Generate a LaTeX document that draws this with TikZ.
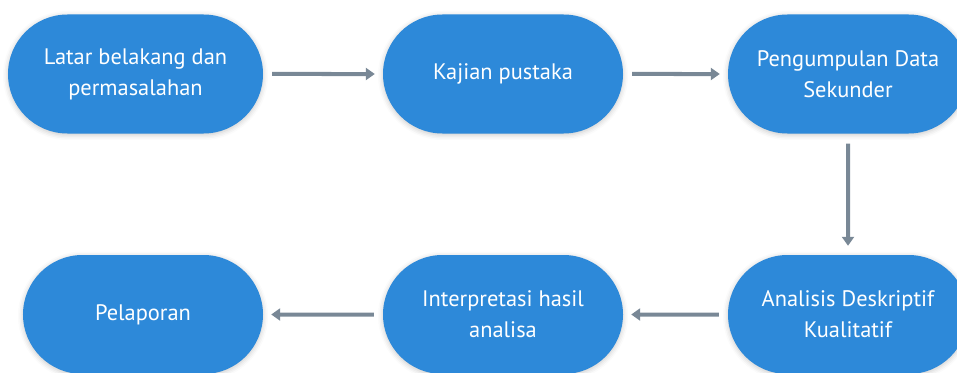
\documentclass[tikz,border=0pt]{standalone}
\usepackage{fontspec}
\setmainfont{PT Sans}
\usetikzlibrary{shapes.misc,arrows.meta,shadows.blur}
\definecolor{boxblue}{RGB}{45,137,217}
\definecolor{arrowgray}{RGB}{121,136,150}
\begin{document}
\begin{tikzpicture}[x=1bp,y=1bp,
step box/.style = {rounded rectangle, fill = boxblue, draw = none,
  minimum width = 240bp, minimum height = 119bp, inner sep = 0pt,
  text = white, align = center, font = \fontsize{22.5}{31}\selectfont,
  blur shadow = {shadow xshift = 0bp, shadow yshift = -1.5bp,
    shadow blur radius = 5bp, shadow opacity = 22}},
flow/.style = {draw = arrowgray, line width = 4bp,
  -{Triangle[length = 9bp, width = 12bp]},
  shorten < = 9bp, shorten > = 8bp}]
\useasboundingbox (0,0) rectangle (957,372);
\node[step box, minimum width = 255bp] (L) at (135.5,298) {Latar belakang dan\\permasalahan};
\node[step box] (K) at (503,298) {Kajian pustaka};
\node[step box] (P) at (848,298) {Pengumpulan Data\\Sekunder};
\node[step box] (A) at (848,57.5) {Analisis Deskriptif\\Kualitatif};
\node[step box] (I) at (503,57.5) {Interpretasi hasil\\analisa};
\node[step box] (R) at (143,57.5) {Pelaporan};
\draw[flow] (L) -- (K);
\draw[flow] (K) -- (P);
\draw[flow, shorten < = 10bp, shorten > = 9bp] (P) -- (A);
\draw[flow] (A) -- (I);
\draw[flow] (I) -- (R);
\end{tikzpicture}
\end{document}
